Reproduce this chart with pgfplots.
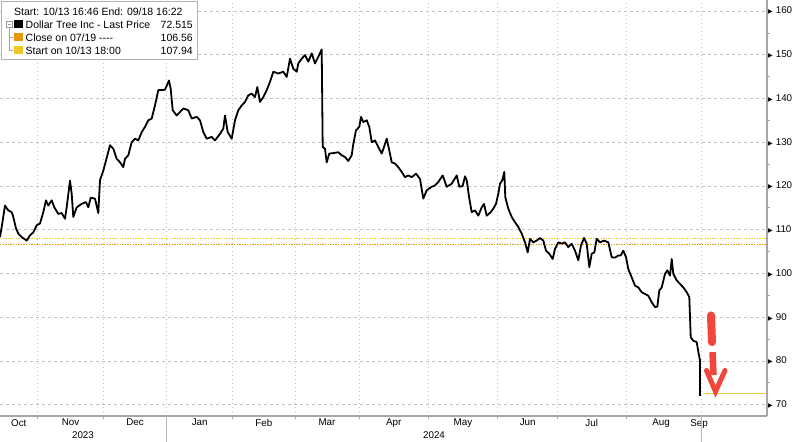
\documentclass[border=0pt]{standalone}
\usepackage{pgfplots}
\pgfplotsset{compat=1.18}
\usepackage{fontspec}
\setmainfont{Liberation Sans}
\newfontfamily\symb{DejaVu Sans}
\definecolor{lineyel}{RGB}{238,200,40}
\definecolor{lastyel}{RGB}{240,205,60}
\definecolor{lineorg}{RGB}{232,150,10}
\definecolor{arrowred}{RGB}{240,70,60}
\definecolor{gridc}{RGB}{195,195,195}
\begin{document}
\begin{tikzpicture}
\begin{axis}[
  scale only axis, width=767pt, height=416pt,
  xmin=0, xmax=767, ymin=67.4, ymax=162.5,
  axis x line*=bottom, axis y line*=right,
  axis line style={draw=gray!70, line width=1.2pt, -},
  clip=false,
  /pgf/number format/assume math mode=true,
  tick label style={font=\fontsize{9.8}{11}\selectfont},
  tick align=outside,
  major tick length=3pt, minor tick length=3pt,
  ytick={70,80,...,160},
  minor y tick num=1,
  ytick style={draw=none},
  minor y tick style={draw=gray!70, line width=0.6pt},
  ymajorgrids,
  y grid style={gridc, dash pattern=on 3pt off 3pt, line width=0.6pt},
  yticklabel style={anchor=west, inner sep=0pt, xshift=-2pt},
  yticklabel={{\symb\fontsize{6}{6}\selectfont ▶}\hspace{3pt}\pgfmathprintnumber{\tick}},
  xtick={37.7,103.3,166.7,232.7,295,359,428.3,497.7,557.7,626,701.7},
  xticklabels={},
  xtick style={draw=gray!70, line width=0.6pt},
  xmajorgrids,
  x grid style={gridc, dash pattern=on 1pt off 3pt, line width=0.7pt},
  extra x ticks={18.8,70.5,135,199.7,263.8,327,393.7,463,527.7,591.7,661,699},
  extra x tick labels={Oct,Nov,Dec,Jan,Feb,Mar,Apr,May,Jun,Jul,Aug,Sep},
  extra x tick style={grid=none, major tick length=0pt, xticklabel style={inner sep=0pt, yshift=-3pt}},
]
\addplot[lineyel, line width=1.3pt, dash pattern=on 1.3pt off 1.3pt] coordinates {(0,107.94) (767,107.94)};
\addplot[lineorg, line width=1.3pt, dash pattern=on 1.3pt off 1.3pt] coordinates {(0,106.56) (767,106.56)};
\addplot[draw=lastyel, line width=1.4pt, solid, mark=none] coordinates {(702.5,72.515) (766,72.515)};
\addplot[black, line width=1.8pt, line join=round] coordinates {
(0,108.3) (1.7,110.6) (5,115.5) (8.3,114.4) (11.7,114) (13.3,112.9) (16,110.3) (18.3,109.1)
(21.7,108.3) (26.7,107.5) (30,108.7) (33.3,109.4) (36.7,111) (40,111.4) (43.3,114) (46,116.7)
(48.3,115.5) (51.7,116.7) (54.3,115.1) (58.3,113.6) (61.7,113.8) (65,112.5) (66.7,115.1) (70,121.2)
(71.7,118.2) (73.3,112.9) (76.7,115.1) (81.7,115.9) (86,116.3) (88.3,115.1) (90.7,117.3) (95,117.1)
(98.3,113.8) (100,121.3) (103.3,123.5) (106,125.8) (110,129.3) (113.3,128.5) (116.7,126.2) (120,125.4)
(123.3,124.3) (125,126.2) (128.3,127) (131.7,130) (135,130.8) (138.3,130.4) (141.7,132.3) (145,133.5)
(148.3,135) (151.7,135.4) (155,138.4) (158.3,141.9) (161.7,141.9) (165,142) (169,144.1) (170.7,142.2)
(172.7,137.3) (176.7,136.1) (180,136.9) (183.3,137.7) (188.3,137.3) (191.7,135.4) (196.7,135.8) (200,135)
(203.3,132.3) (206.7,130.8) (211.7,131.2) (215,130.4) (220,131.9) (223.3,133.1) (225,136.1) (227.7,132.3)
(231.7,130.8) (235,135) (238.3,137.3) (241.7,138.4) (245,139.2) (248.3,140.7) (251.7,141.1) (255,140.3)
(257.3,142.6) (260,139.2) (263.3,140.3) (266.7,141.9) (270,143.8) (273.3,146.1) (278.3,145.7) (283.3,146.1)
(286.7,144.9) (290,149.1) (293.3,146.8) (296.7,146.1) (298.3,148) (301.7,149.1) (305,149.9) (308.3,148.4)
(311.7,150.3) (315,148) (318.3,149.5) (321.7,151.2) (322.7,128.9) (325,128.5) (326.7,125.4) (329.3,127.4)
(333.3,127.5) (338.3,127.7) (341.7,127) (345,126.6) (348.3,125.7) (351.7,127) (353.3,129.6) (356,132.7)
(359.3,133.5) (361,135.8) (363.3,134.6) (366.7,135) (369.3,133.5) (371.7,130) (375,130.4) (378.3,128.9)
(381.7,127.4) (384,128.9) (386.7,130.8) (389.3,128.1) (391.7,125.4) (395,125.1) (398.3,124.3) (401.7,123.2)
(405,122) (408.3,122.4) (411.7,122) (416,122.8) (420,121.6) (423.3,117.1) (426.7,119) (431.7,119.8)
(435,120.1) (438.3,120.9) (442.7,122.4) (446.7,119.8) (451.7,120.5) (456.7,122.4) (459.3,119.8) (462.7,120)
(465,122.2) (466.7,121.3) (469.3,117.1) (471.7,114) (475,114.4) (478.3,113.2) (481.7,115.1) (484,115.9)
(486.7,113.2) (490.7,114) (493.3,114.8) (496,115.9) (498.3,118.2) (500,120.5) (502.3,121.3) (504.3,123.2)
(505.3,117.4) (508.3,114.8) (511.7,112.9) (515,111.7) (518.3,110.6) (521.7,109.1) (525,107.1) (527.7,104.8)
(530,107.9) (533.3,107.1) (536.7,107.5) (540,108.1) (543.3,107.5) (546,105.2) (549.3,104.5) (552.7,103.3)
(555,105.6) (558.3,107.1) (561.7,106.8) (565,107.1) (568.3,106) (571.7,106.8) (575,105.2) (578.3,103)
(581,106.4) (584,108.1) (586.7,106.8) (589.3,101.4) (591.7,104.5) (594.3,104.8) (596.7,107.9) (600,107.1)
(604,107.5) (608.3,107.1) (611.7,103.7) (615,103.6) (618.3,104.1) (620.7,104.1) (623.3,105.2) (626,103.7)
(628.3,101) (631.7,99.1) (635,97.2) (638.3,96.8) (641.7,95.7) (645,95.3) (648.3,94.9) (651.7,93.4)
(655,92.3) (657.3,92.4) (659.3,96.1) (661.7,96.8) (665,99.9) (667.3,100.7) (670,99.5) (671.7,103.3)
(673.3,99.9) (676.7,98.4) (680,97.6) (683.3,96.8) (686.7,95.7) (689.3,94.6) (690.7,85.4) (693.3,84.6)
(696.7,84.3) (698.7,81.6) (700,80.1) (700,72.0)
};
% red arrow annotation
\draw[arrowred, line width=8pt, line cap=round] (axis cs:711,90.4) -- (axis cs:712,84.3);
\draw[arrowred, line width=6.5pt] (axis cs:712.5,82.0) -- (axis cs:713.5,76.8);
\draw[arrowred, line width=5pt, line cap=round, line join=miter] (axis cs:706.5,77.8) -- (axis cs:715.5,73.0) -- (axis cs:725,77.8);
% year separators and labels
\draw[gray!55, line width=0.8pt] (axis cs:166.7,67.4) -- ++(0,-25pt);
\draw[gray!55, line width=0.8pt] (axis cs:701.7,67.4) -- ++(0,-25pt);
\node[anchor=base, inner sep=0pt, font=\fontsize{9.8}{11}\selectfont] at ([yshift=-22pt]axis cs:83,67.4) {2023};
\node[anchor=base, inner sep=0pt, font=\fontsize{9.8}{11}\selectfont] at ([yshift=-22pt]axis cs:434,67.4) {2024};
\end{axis}
\begin{scope}[shift={(current axis.north west)}, x=1pt, y=-1pt, font=\fontsize{10.5}{12}\selectfont]
\draw[gray!60, fill=white, line width=0.7pt] (1,1.5) rectangle (197,59);
\node[anchor=base west, inner sep=0pt] at (14,16) {Start: 10/13 16:46 End: 09/18 16:22};
\draw[gray!80, line width=0.5pt] (6.5,21.5) rectangle (12,27);
\draw[gray!80, line width=0.5pt] (7.8,24.3) -- (10.7,24.3);
\draw[gray!70, line width=0.5pt] (9.2,27) -- (9.2,50) -- (13,50);
\draw[gray!70, line width=0.5pt] (9.2,37) -- (13,37);
\fill[black] (14,20) rectangle (23,28.5);
\fill[lineorg] (14,33) rectangle (23,41.5);
\fill[lineyel] (14,46) rectangle (23,54.5);
\node[anchor=base west, inner sep=0pt] at (25.5,28.5) {Dollar Tree Inc - Last Price};
\node[anchor=base west, inner sep=0pt] at (25.5,41.5) {Close on 07/19 {-}{-}{-}{-}};
\node[anchor=base west, inner sep=0pt] at (25.5,54.5) {Start on 10/13 18:00};
\node[anchor=base east, inner sep=0pt] at (193,28.5) {72.515};
\node[anchor=base east, inner sep=0pt] at (193,41.5) {106.56};
\node[anchor=base east, inner sep=0pt] at (193,54.5) {107.94};
\end{scope}
\pgfresetboundingbox
\path (current axis.south west) ++(0,-25pt) coordinate (bbA);
\path (current axis.north east) ++(33pt,0) coordinate (bbB);
\path[use as bounding box] (bbA) rectangle (bbB);
\end{tikzpicture}
\end{document}
